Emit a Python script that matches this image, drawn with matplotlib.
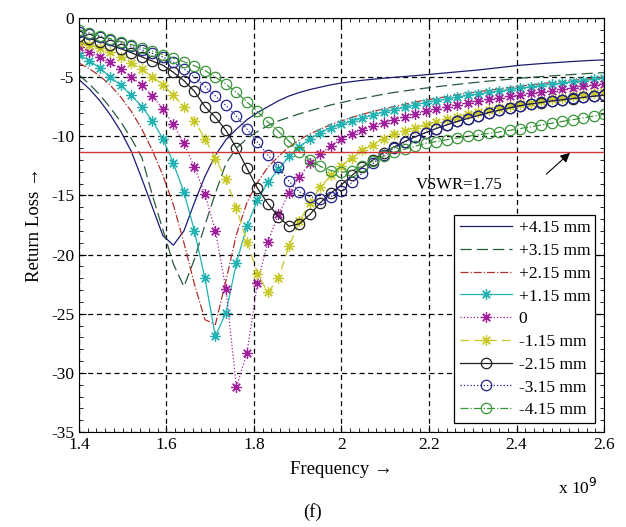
import matplotlib
matplotlib.use("Agg")
import matplotlib.pyplot as plt
from matplotlib.ticker import MultipleLocator

plt.rcParams['font.family'] = ['Liberation Serif', 'DejaVu Serif']
plt.rcParams['axes.unicode_minus'] = False

# frequency grid (x 10^9 Hz)
freq = [1.400, 1.424, 1.448, 1.472, 1.496, 1.520, 1.544, 1.568, 1.592, 1.616,
        1.640, 1.664, 1.688, 1.712, 1.736, 1.760, 1.784, 1.808, 1.832, 1.856,
        1.880, 1.904, 1.928, 1.952, 1.976, 2.000, 2.024, 2.048, 2.072, 2.096,
        2.120, 2.144, 2.168, 2.192, 2.216, 2.240, 2.264, 2.288, 2.312, 2.336,
        2.360, 2.384, 2.408, 2.432, 2.456, 2.480, 2.504, 2.528, 2.552, 2.576,
        2.600]

rl_p415 = [-5.2, -6.0, -7.0, -8.2, -9.6, -11.3, -13.6, -16.0, -18.4, -19.2,
           -18.0, -15.6, -13.4, -11.6, -10.3, -9.4, -8.6, -8.0, -7.5, -7.0,
           -6.6, -6.3, -6.05, -5.85, -5.65, -5.5, -5.38, -5.27, -5.18, -5.1,
           -5.02, -4.95, -4.88, -4.8, -4.72, -4.64, -4.56, -4.48, -4.4, -4.3,
           -4.2, -4.1, -4.0, -3.93, -3.86, -3.8, -3.74, -3.68, -3.63, -3.58,
           -3.55]
rl_p315 = [-4.8, -5.6, -6.5, -7.6, -8.8, -10.2, -11.8, -15.0, -17.9, -20.8,
           -22.7, -20.4, -17.5, -14.8, -12.3, -11.0, -10.2, -9.6, -9.1, -8.7,
           -8.4, -8.1, -7.85, -7.6, -7.35, -7.15, -6.95, -6.8, -6.62, -6.45,
           -6.3, -6.17, -6.05, -5.93, -5.82, -5.72, -5.62, -5.52, -5.43, -5.34,
           -5.26, -5.18, -5.1, -5.03, -4.96, -4.9, -4.84, -4.78, -4.72, -4.67,
           -4.62]
rl_p215 = [-3.8, -4.3, -4.9, -5.7, -6.7, -7.9, -9.4, -11.2, -13.3, -15.8,
           -19.0, -22.5, -25.5, -25.9, -22.2, -18.3, -15.6, -13.9, -12.6, -11.7,
           -10.9, -10.3, -9.8, -9.4, -9.0, -8.7, -8.4, -8.15, -7.9, -7.7,
           -7.5, -7.3, -7.1, -6.95, -6.8, -6.65, -6.5, -6.37, -6.24, -6.12,
           -6.0, -5.88, -5.77, -5.66, -5.56, -5.46, -5.37, -5.28, -5.19, -5.1,
           -5.02]
rl_p115 = [-3.1, -3.6, -4.25, -5.0, -5.7, -6.55, -7.5, -8.7, -10.2, -12.3,
           -14.7, -18.0, -22.0, -26.9, -24.9, -20.7, -17.6, -15.4, -13.9, -12.8,
           -11.7, -10.9, -10.2, -9.7, -9.3, -9.0, -8.7, -8.45, -8.2, -7.95,
           -7.75, -7.55, -7.35, -7.15, -7.0, -6.85, -6.7, -6.55, -6.42, -6.3,
           -6.18, -6.05, -5.93, -5.82, -5.72, -5.6, -5.5, -5.4, -5.3, -5.2,
           -5.1]
rl_0 = [-2.45, -2.9, -3.3, -3.75, -4.35, -5.0, -5.7, -6.6, -7.7, -9.0,
        -10.6, -12.6, -14.9, -18.0, -22.9, -31.2, -28.3, -22.4, -18.9, -16.6,
        -14.8, -13.4, -12.3, -11.5, -10.8, -10.2, -9.8, -9.45, -9.15, -8.85,
        -8.6, -8.35, -8.1, -7.9, -7.7, -7.5, -7.33, -7.17, -7.02, -6.88,
        -6.75, -6.62, -6.5, -6.38, -6.26, -6.14, -6.02, -5.9, -5.78, -5.66,
        -5.55]
rl_m115 = [-2.1, -2.3, -2.55, -2.9, -3.3, -3.8, -4.35, -4.95, -5.65, -6.55,
           -7.5, -8.7, -10.2, -11.9, -13.6, -16.1, -18.9, -21.6, -23.2, -22.0,
           -19.3, -17.2, -15.6, -14.3, -13.3, -12.5, -11.8, -11.2, -10.7, -10.2,
           -9.85, -9.55, -9.3, -9.05, -8.8, -8.58, -8.36, -8.15, -7.95, -7.78,
           -7.6, -7.45, -7.3, -7.15, -7.0, -6.87, -6.74, -6.62, -6.5, -6.38,
           -6.27]
rl_m215 = [-1.5, -1.75, -2.0, -2.3, -2.6, -2.95, -3.3, -3.65, -4.0, -4.6,
           -5.3, -6.2, -7.5, -8.4, -9.5, -11.0, -12.7, -14.4, -15.7, -16.8,
           -17.6, -17.4, -16.6, -15.6, -14.8, -14.1, -13.3, -12.6, -12.0, -11.4,
           -10.9, -10.45, -10.05, -9.7, -9.35, -9.05, -8.75, -8.5, -8.25, -8.0,
           -7.8, -7.6, -7.42, -7.27, -7.15, -7.02, -6.92, -6.82, -6.72, -6.62,
           -6.52]
rl_m315 = [-1.2, -1.4, -1.6, -1.85, -2.1, -2.4, -2.7, -3.0, -3.3, -3.75,
           -4.3, -5.0, -5.8, -6.6, -7.4, -8.3, -9.4, -10.5, -11.6, -12.6,
           -13.8, -14.7, -15.1, -15.3, -15.1, -14.6, -13.9, -13.1, -12.3, -11.6,
           -11.0, -10.5, -10.05, -9.7, -9.35, -9.05, -8.75, -8.5, -8.25, -8.0,
           -7.8, -7.6, -7.42, -7.27, -7.13, -7.0, -6.9, -6.8, -6.7, -6.6,
           -6.5]
rl_m415 = [-1.0, -1.25, -1.5, -1.75, -2.0, -2.25, -2.5, -2.8, -3.1, -3.4,
           -3.7, -4.05, -4.45, -5.0, -5.6, -6.3, -7.1, -7.9, -8.8, -9.6,
           -10.4, -11.3, -12.0, -12.55, -12.9, -13.05, -12.9, -12.5, -12.1, -11.7,
           -11.35, -11.1, -10.85, -10.6, -10.45, -10.3, -10.15, -10.0, -9.88, -9.76,
           -9.64, -9.5, -9.35, -9.2, -9.05, -8.9, -8.75, -8.6, -8.45, -8.3,
           -8.15]

labels = ['+4.15 mm', '+3.15 mm', '+2.15 mm', '+1.15 mm', '0',
          '-1.15 mm', '-2.15 mm', '-3.15 mm', '-4.15 mm']
vswr_level = -11.3

star = (8, 2, 0)
series = [
    (rl_p415, '#1c1c72', '-', None),
    (rl_p315, '#2a5a3c', (0, (9, 4)), None),
    (rl_p215, '#b0302c', '-.', None),
    (rl_p115, '#22b2b2', '-', star),
    (rl_0, '#a0209c', ':', star),
    (rl_m115, '#c8c828', (0, (7, 4)), star),
    (rl_m215, '#202020', '-', 'o'),
    (rl_m315, '#22228e', ':', 'o'),
    (rl_m415, '#3a963a', '-.', 'o'),
]

fig = plt.figure(figsize=(6.26, 5.27), dpi=100)
ax = fig.add_axes([0.126, 0.180, 0.839, 0.786])

for (y, c, ls, mk), lab in zip(series, labels):
    if mk is None:
        ax.plot(freq, y, color=c, ls=ls, lw=0.9, label=lab)
    else:
        ax.plot(freq, y, color=c, ls=ls, lw=0.9, marker=mk, ms=7.5,
                mfc='none', mec=c, mew=0.9, label=lab)

ax.axhline(vswr_level, color='#d03838', lw=1.0)
ax.text(2.27, -14.1, 'VSWR=1.75', ha='center', va='center', fontsize=12)
ax.annotate('', xy=(2.522, vswr_level - 0.1), xytext=(2.468, -13.2),
            arrowprops=dict(arrowstyle='-|>', color='black', lw=0.8,
                            shrinkA=0, shrinkB=0, mutation_scale=14))

ax.set_xlim(1.4, 2.6)
ax.set_ylim(-35, 0)
ax.xaxis.set_major_locator(MultipleLocator(0.2))
ax.xaxis.set_minor_locator(MultipleLocator(0.02))
ax.yaxis.set_major_locator(MultipleLocator(5))
ax.yaxis.set_minor_locator(MultipleLocator(1))
ax.set_xticks([1.4, 1.6, 1.8, 2.0, 2.2, 2.4, 2.6])
ax.set_xticklabels(['1.4', '1.6', '1.8', '2', '2.2', '2.4', '2.6'])
ax.tick_params(which='both', direction='in', top=True, right=True,
               labelsize=12.5)
ax.tick_params(which='major', length=5)
ax.tick_params(which='minor', length=3)
ax.grid(True, which='major', color='black', ls=(0, (4, 3)), lw=0.9)

ax.set_xlabel('Frequency \u2192', fontsize=13.5, labelpad=6)
ax.set_ylabel('Return Loss \u2192', fontsize=13.5, labelpad=6)
fig.text(0.955, 0.062, 'x 10$^9$', ha='right', fontsize=12.5)
fig.text(0.5, 0.02, '(f)', ha='center', fontsize=13.5)

leg = ax.legend(loc='lower right', fontsize=12.5, handlelength=3.0,
                fancybox=False, framealpha=1, edgecolor='black',
                borderpad=0.3, labelspacing=0.38, borderaxespad=0.5,
                handletextpad=0.4)
leg.get_frame().set_linewidth(0.9)

fig.savefig('out.png', dpi=100)
